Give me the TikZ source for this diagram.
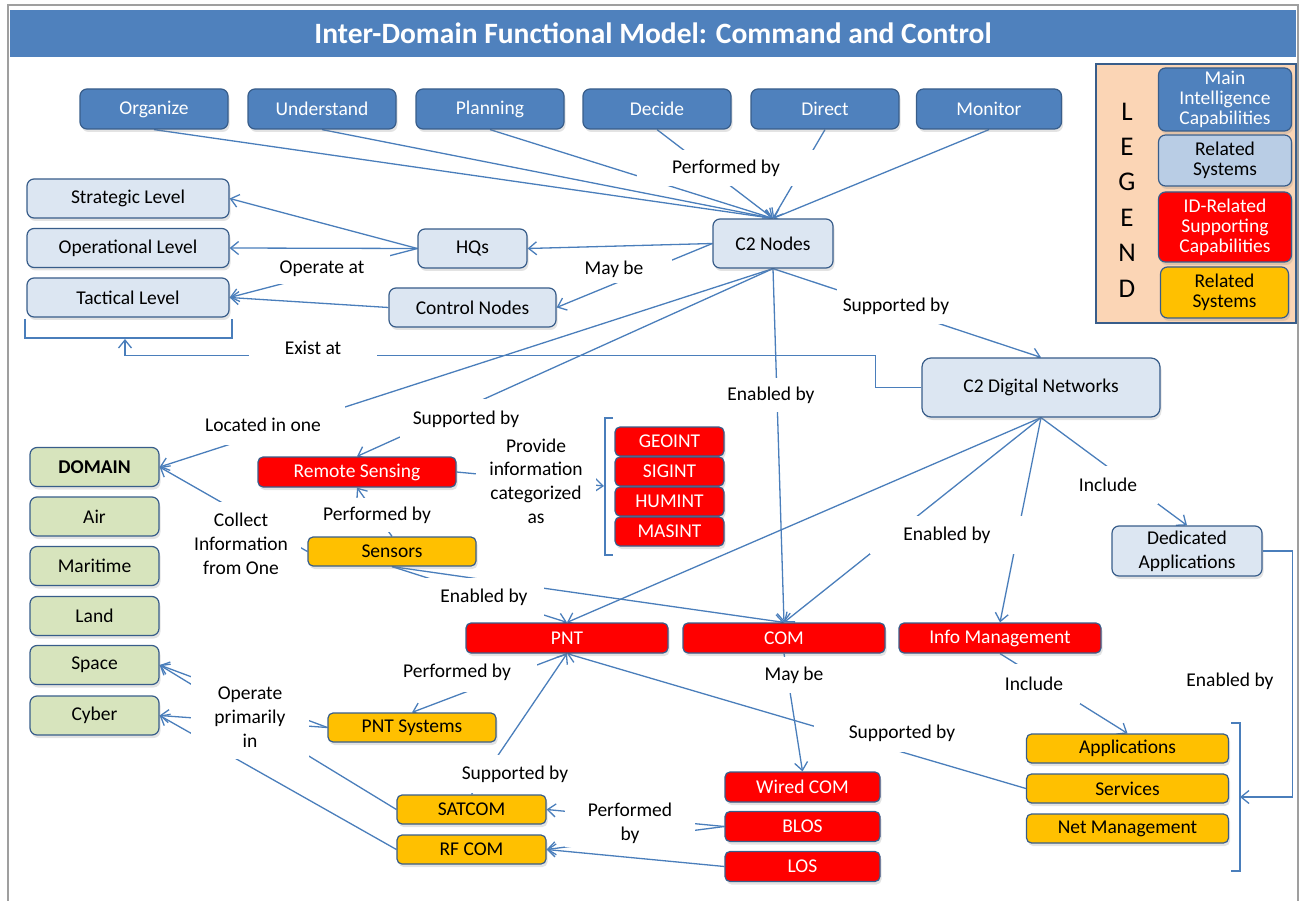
\documentclass[tikz,border=0pt]{standalone}
\usepackage{fontspec}
\setmainfont{Carlito}
\usetikzlibrary{arrows.meta,shadows}

\definecolor{hdrblue}{HTML}{4F81BD}
\definecolor{edgeblue}{HTML}{4A7EBB}
\definecolor{rimblue}{HTML}{385D8A}
\definecolor{paleblue}{HTML}{DCE6F2}
\definecolor{skyblue}{HTML}{B9CDE5}
\definecolor{sage}{HTML}{D7E4BD}
\definecolor{amber}{HTML}{FFC000}
\definecolor{peach}{HTML}{FBD5B5}

\pgfdeclarelayer{lines}
\pgfdeclarelayer{masks}
\pgfsetlayers{lines,masks,main}

\tikzset{
  txt/.style={font=\fontsize{19.5}{23.8}\selectfont},
  box/.style={txt, draw=rimblue, line width=1.2pt, rounded corners=7pt, align=center, inner sep=0pt,
    drop shadow={opacity=.22, shadow xshift=1.5pt, shadow yshift=-3pt}},
  func/.style={box, fill=hdrblue, text=white, minimum width=148, minimum height=40},
  pale/.style={box, fill=paleblue, minimum height=39},
  dom/.style={box, fill=sage, minimum width=129, minimum height=39},
  idcap/.style={box, fill=red, text=white, rounded corners=5pt, minimum height=30},
  sys/.style={box, fill=amber, rounded corners=5pt, minimum height=29},
  lbl/.style={txt, fill=white, align=center, inner sep=0pt},
  ln/.style={draw=edgeblue, line width=1.3pt},
  arr/.style={ln, -{Straight Barb[length=8pt,width=13pt]}},
  keytxt/.style={font=\fontsize{19.5}{20}\selectfont}
}

\begin{document}
\begin{tikzpicture}[x=1pt, y=-1pt]
\useasboundingbox (0,0) rectangle (1299,901);

% frame and title
\draw[gray!75, line width=2pt] (8,901) -- (8,5) -- (1298,5) -- (1298,901);
\node[fill=hdrblue, minimum width=1286, minimum height=47, inner sep=0pt, text=white,
  font=\bfseries\fontsize{29.5}{33}\selectfont] (title) at (653,33.5)
  {Inter-Domain Functional Model: Command and Control};

% functions
\node[func] (organize) at (154,109) {Organize};
\node[func] (understand) at (322,109) {Understand};
\node[func] (planning) at (490,109) {Planning};
\node[func] (decide) at (657,109) {Decide};
\node[func] (direct) at (825,109) {Direct};
\node[func, minimum width=145] (monitor) at (989,109) {Monitor};

% C2 structure
\node[pale, minimum width=202] (strat) at (128,198.5) {Strategic Level};
\node[pale, minimum width=202] (oper) at (128,248) {Operational Level};
\node[pale, minimum width=202] (tact) at (128,297.5) {Tactical Level};
\node[pale, minimum width=109] (hqs) at (472.5,248.5) {HQs};
\node[pale, minimum width=167] (ctrl) at (472.5,307.5) {Control Nodes};
\node[pale, minimum width=120, minimum height=49] (c2n) at (773,243.5) {C2 Nodes};
\node[pale, minimum width=238, minimum height=59, rounded corners=9pt] (c2dn) at (1041,387.5) {C2 Digital Networks};
\node[pale, minimum width=150, minimum height=50] (dedapp) at (1187,551) {Dedicated\\Applications};

% domains
\node[dom, font=\bfseries\fontsize{19.5}{23.8}\selectfont] (domain) at (94.5,467) {DOMAIN};
\node[dom] (air) at (94.5,516.5) {Air};
\node[dom] (maritime) at (94.5,566) {Maritime};
\node[dom] (land) at (94.5,616) {Land};
\node[dom] (space) at (94.5,665) {Space};
\node[dom] (cyber) at (94.5,715.5) {Cyber};

% sensing
\node[idcap, minimum width=198] (remsens) at (357,472) {Remote Sensing};
\node[idcap, minimum width=109, minimum height=29] (geoint) at (669.5,441.5) {GEOINT};
\node[idcap, minimum width=109, minimum height=29] (sigint) at (669.5,471.5) {SIGINT};
\node[idcap, minimum width=109, minimum height=29] (humint) at (669.5,501.5) {HUMINT};
\node[idcap, minimum width=109, minimum height=29] (masint) at (669.5,531.5) {MASINT};
\node[sys, minimum width=168] (sensors) at (392,551.5) {Sensors};

% supporting capabilities
\node[idcap, minimum width=202] (pnt) at (567,638) {PNT};
\node[idcap, minimum width=202] (com) at (784,638) {COM};
\node[idcap, minimum width=202] (infomgmt) at (1000,638) {Info Management};
\node[sys, minimum width=168] (pntsys) at (412,727.5) {PNT Systems};
\node[sys, minimum width=149] (satcom) at (471.5,809.5) {SATCOM};
\node[sys, minimum width=149] (rfcom) at (471.5,849.5) {RF COM};
\node[idcap, minimum width=155] (wired) at (802.5,787) {Wired COM};
\node[idcap, minimum width=155] (blos) at (802.5,826.5) {BLOS};
\node[idcap, minimum width=155] (los) at (802.5,866.5) {LOS};
\node[sys, minimum width=202] (apps) at (1127.5,748.5) {Applications};
\node[sys, minimum width=202] (services) at (1127.5,788.5) {Services};
\node[sys, minimum width=202] (netmgmt) at (1127.5,828.5) {Net Management};

% legend
\node[draw=rimblue, line width=2.5pt, fill=peach, minimum width=200, minimum height=259, inner sep=0pt] (legend) at (1196,193.5) {};
\foreach \ch [count=\i] in {L,E,G,E,N,D}
  \node[font=\fontsize{27}{30}\selectfont] (leg\i) at (1127,{76+35.4*\i}) {\ch};
\node[box, keytxt, fill=hdrblue, text=white, minimum width=133, minimum height=63] (keymain) at (1225,99.5) {Main\\Intelligence\\Capabilities};
\node[box, keytxt, fill=skyblue, minimum width=133, minimum height=51] (keypale) at (1225,160.5) {Related\\Systems};
\node[box, keytxt, fill=red, text=white, minimum width=133, minimum height=70] (keyred) at (1225,227) {ID-Related\\Supporting\\Capabilities};
\node[box, keytxt, fill=amber, minimum width=128, minimum height=51] (keyamber) at (1224.5,292.5) {Related\\Systems};

% bracket ends
\coordinate (tacbr) at (125,339);
\coordinate (intbr) at (604,486);
\coordinate (appbr) at (1240,797);
\draw[ln] (25,319) -- (25,338) -- (232,338) -- (232,319);
\draw[ln] (613,418) -- (605,418) -- (605,555) -- (613,555);
\draw[ln] (1231,723) -- (1240,723) -- (1240,871) -- (1231,871);

\begin{pgfonlayer}{lines}
\foreach \f in {organize,understand,planning,decide,direct,monitor}
  \draw[arr] (\f.south) -- (c2n.north);
\draw[arr] (c2n.west) -- (hqs.east);
\draw[arr] (c2n.west) -- (ctrl.east);
\draw[arr] (hqs.west) -- (strat.east);
\draw[arr] (hqs.west) -- (oper.east);
\draw[arr] (hqs.west) -- (tact.east);
\draw[arr] (ctrl.west) -- (tact.east);
\draw[arr] (c2n.south) -- (c2dn.north);
\draw[arr] (c2n.south) -- (com.north);
\draw[arr] (c2n.south) -- (domain.east);
\draw[arr] (c2n.south) -- (remsens.north);
\draw[arr] (c2dn.west) -- ++(-46,0) -- ++(0,-32) -| (tacbr);
\draw[arr] (remsens.east) -- (intbr);
\draw[arr] (sensors.north) -- (remsens.south);
\draw[arr] (sensors.west) -- (domain.east);
\draw[arr] (sensors.south) -- (pnt.north);
\draw[arr] (sensors.south) -- (com.north);
\draw[arr] (c2dn.south) -- (pnt.north);
\draw[arr] (c2dn.south) -- (com.north);
\draw[arr] (c2dn.south) -- (infomgmt.north);
\draw[arr] (c2dn.south) -- (dedapp.north);
\draw[arr] (dedapp.east) -- ++(30,0) |- (appbr);
\draw[arr] (pnt.south) -- (pntsys.north);
\draw[arr] (satcom.north) -- (pnt.south);
\draw[arr] (services.west) -- (pnt.south);
\draw[arr] (com.south) -- (wired.north);
\draw[arr] (infomgmt.south) -- (apps.north);
\draw[arr] (blos.west) -- (satcom.east);
\draw[arr] (blos.west) -- (rfcom.east);
\draw[arr] (los.west) -- (rfcom.east);
\draw[arr] (pntsys.west) -- (space.east);
\draw[arr] (pntsys.west) -- (cyber.east);
\draw[arr] (satcom.west) -- (space.east);
\draw[arr] (rfcom.west) -- (cyber.east);
\end{pgfonlayer}

% connector labels
\begin{pgfonlayer}{masks}
\node[lbl, minimum width=178, minimum height=36] (perfby1) at (726,168) {Performed by};
\node[lbl, minimum width=116, minimum height=28] (maybe1) at (614,269) {May be};
\node[lbl, minimum width=136, minimum height=30] (opat) at (322,269) {Operate at};
\node[lbl, minimum width=118, minimum height=36] (supby1) at (896,306) {Supported by};
\node[lbl, minimum width=128, minimum height=30] (existat) at (313,348) {Exist at};
\node[lbl, minimum width=90, minimum height=34] (enby1) at (771,395) {Enabled by};
\node[lbl, minimum width=164, minimum height=40] (locin) at (263,425) {Located in one};
\node[lbl, minimum width=132, minimum height=40] (supby2) at (466,419) {Supported by};
\node[lbl, minimum width=120] (provide) at (536,481) {Provide\\information\\categorized\\as};
\node[lbl, minimum width=112, minimum height=34] (perfby2) at (377,515) {Performed by};
\node[lbl, minimum width=120, minimum height=84] (collect) at (241,544) {Collect\\Information\\from One};
\node[lbl, minimum width=120, minimum height=38] (enby2) at (484,597) {Enabled by};
\node[lbl, minimum width=100, minimum height=38] (incl1) at (1108,485) {Include};
\node[lbl, minimum width=154, minimum height=38] (enby3) at (947,535) {Enabled by};
\node[lbl, minimum width=160, minimum height=40] (perfby3) at (457,672) {Performed by};
\node[lbl, minimum width=70, minimum height=36] (maybe2) at (794,675) {May be};
\node[lbl, minimum width=92, minimum height=40] (incl2) at (1034,684) {Include};
\node[lbl] (enby4) at (1230,681) {Enabled by};
\node[lbl, minimum width=118, minimum height=84] (opprim) at (250,717) {Operate\\primarily\\in};
\node[lbl, minimum width=176, minimum height=38] (supby3) at (902,733) {Supported by};
\node[lbl, minimum width=112, minimum height=38] (supby4) at (515,774) {Supported by};
\node[lbl, minimum width=130, minimum height=48] (perfby4) at (630,823) {Performed\\by};
\end{pgfonlayer}

\end{tikzpicture}
\end{document}
